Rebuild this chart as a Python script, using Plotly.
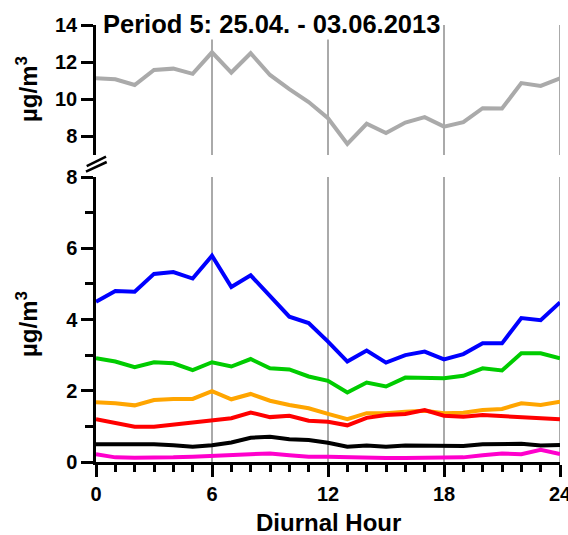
import plotly.graph_objects as go

# Diurnal cycle, hourly means (0..24 h)
hours = list(range(25))

# upper panel (larger concentration)
total = [11.13, 11.08, 10.77, 11.58, 11.65, 11.37, 12.53, 11.44, 12.48, 11.31,
         10.55, 9.85, 8.98, 7.60, 8.68, 8.18, 8.75, 9.04, 8.53, 8.77,
         9.52, 9.50, 10.87, 10.72, 11.13]

# lower panel components
blue = [4.50, 4.80, 4.78, 5.28, 5.33, 5.15, 5.79, 4.91, 5.24, 4.64,
        4.08, 3.90, 3.38, 2.82, 3.13, 2.79, 3.00, 3.10, 2.88, 3.03,
        3.33, 3.33, 4.04, 3.98, 4.48]
green = [2.91, 2.82, 2.66, 2.80, 2.77, 2.58, 2.80, 2.68, 2.89, 2.63,
         2.60, 2.40, 2.28, 1.95, 2.23, 2.12, 2.37, 2.35, 2.35, 2.42,
         2.63, 2.57, 3.05, 3.05, 2.91]
orange = [1.68, 1.65, 1.59, 1.74, 1.77, 1.77, 1.99, 1.76, 1.91, 1.72,
          1.60, 1.51, 1.35, 1.20, 1.37, 1.37, 1.41, 1.44, 1.37, 1.38,
          1.46, 1.49, 1.65, 1.60, 1.69]
red = [1.20, 1.09, 0.99, 0.99, 1.05, 1.13, 1.18, 1.23, 1.39, 1.26,
       1.30, 1.16, 1.13, 1.03, 1.24, 1.32, 1.35, 1.46, 1.30, 1.27,
       1.32, 1.29, 1.27, 1.22, 1.20]
black = [0.50, 0.50, 0.50, 0.50, 0.47, 0.43, 0.47, 0.55, 0.68, 0.71,
         0.64, 0.62, 0.54, 0.43, 0.46, 0.43, 0.46, 0.46, 0.45, 0.45,
         0.50, 0.51, 0.51, 0.46, 0.48]
magenta = [0.22, 0.13, 0.12, 0.12, 0.13, 0.15, 0.17, 0.19, 0.23, 0.24,
           0.19, 0.15, 0.15, 0.13, 0.13, 0.11, 0.11, 0.11, 0.11, 0.13,
           0.19, 0.24, 0.22, 0.34, 0.22]

x_ticks = [0, 6, 12, 18, 24]
title_text = "Period 5: 25.04. - 03.06.2013"
x_title = "Diurnal Hour"
y_title = "µg/m<sup>3</sup>"

FONT = "Liberation Sans, Arial, sans-serif"
GRID = "#aaaaaa"
LW = 4

fig = go.Figure()

fig.add_trace(go.Scatter(x=hours, y=total, mode="lines", xaxis="x2", yaxis="y2",
                         line=dict(color="#aaaaaa", width=LW), name="total"))

lower = [(magenta, "#ff00cc"), (black, "#000000"), (orange, "#ffa500"),
         (red, "#ff0000"), (green, "#00cc00"), (blue, "#0000ff")]
for vals, col in lower:
    fig.add_trace(go.Scatter(x=hours, y=vals, mode="lines", xaxis="x", yaxis="y",
                             line=dict(color=col, width=LW)))

tickfont = dict(family=FONT, size=20, color="black", weight="bold")

fig.update_layout(
    width=568, height=535,
    margin=dict(l=96, r=8, t=25, b=73, autoexpand=False),
    paper_bgcolor="white", plot_bgcolor="white",
    showlegend=False,
    xaxis=dict(domain=[0, 1], range=[0, 24], anchor="y", automargin=False,
               tickvals=x_ticks, ticks="outside", ticklen=12, tickwidth=2.5,
               tickcolor="black", showline=True, linecolor="black", linewidth=2.5,
               showgrid=True, gridcolor=GRID, gridwidth=2, zeroline=False,
               tickfont=tickfont, ticklabeloverflow="allow",
               minor=dict(dtick=1, tick0=0, ticks="outside", ticklen=7,
                          tickwidth=2.5, tickcolor="black", showgrid=False)),
    xaxis2=dict(domain=[0, 1], range=[0, 24], anchor="y2", matches="x",
                tickvals=x_ticks, showticklabels=False, ticks="",
                showline=False, showgrid=True, gridcolor=GRID, gridwidth=2,
                zeroline=False, automargin=False),
    yaxis=dict(domain=[0, 285 / 437], range=[0, 8], anchor="x", automargin=False,
               tickvals=[0, 2, 4, 6, 8], ticks="outside", ticklen=12, tickwidth=2.5,
               tickcolor="black", showline=True, linecolor="black", linewidth=2.5,
               showgrid=False, zeroline=False, tickfont=tickfont,
               minor=dict(tickvals=[1, 3, 5, 7], ticks="outside", ticklen=8,
                          tickwidth=2.5, tickcolor="black", showgrid=False)),
    yaxis2=dict(domain=[307 / 437, 1], range=[7, 14], anchor="x2", automargin=False,
                tickvals=[8, 10, 12, 14], ticks="outside", ticklen=12, tickwidth=2.5,
                tickcolor="black", showline=True, linecolor="black", linewidth=2.5,
                showgrid=False, zeroline=False, tickfont=tickfont),
)

# grid line at the right end of the hour axis, in both panels
for xr, yr in (("x", "y domain"), ("x2", "y2 domain")):
    fig.add_shape(type="line", xref=xr, yref=yr, x0=24, x1=24, y0=0, y1=1,
                  layer="below", line=dict(color=GRID, width=2))

# axis break marks between the two panels
for (x0, y0, x1, y1) in [(-0.020, 0.6773, 0.0216, 0.6986),
                         (-0.0216, 0.6643, 0.0231, 0.6865)]:
    fig.add_shape(type="line", xref="paper", yref="paper", x0=x0, y0=y0, x1=x1, y1=y1,
                  line=dict(color="black", width=2.5))

bold = lambda s: dict(family=FONT, size=s, color="black", weight="bold")

fig.add_annotation(text=title_text, xref="paper", yref="paper", x=0.378, y=1.0023,
                   xanchor="center", yanchor="middle", showarrow=False,
                   font=bold(25.5), bgcolor="white")
fig.add_annotation(text=x_title, xref="paper", yref="paper", x=0.5, y=-0.1373,
                   xanchor="center", yanchor="middle", showarrow=False, font=bold(24))
for yc in (0.8535, 0.3158):
    fig.add_annotation(text=y_title, xref="paper", yref="paper", x=-0.1487, y=yc,
                       xanchor="center", yanchor="middle", textangle=-90,
                       showarrow=False, font=bold(24))

fig.write_html("out.html")
